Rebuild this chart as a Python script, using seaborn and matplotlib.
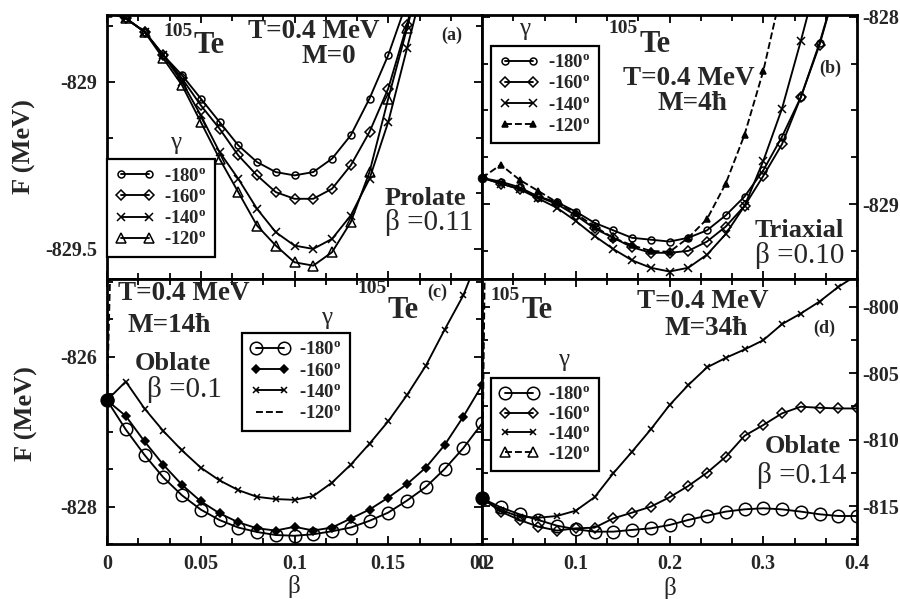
import matplotlib
matplotlib.use("Agg")
import matplotlib.pyplot as plt
import seaborn as sns
from matplotlib.ticker import MultipleLocator, FuncFormatter

sns.set_style("white")
plt.rcParams['font.family'] = ['Liberation Serif', 'DejaVu Serif']
plt.rcParams['font.weight'] = 'bold'
plt.rcParams['axes.unicode_minus'] = False
plt.rcParams['mathtext.fontset'] = 'custom'
plt.rcParams['mathtext.rm'] = 'Liberation Serif:bold'
plt.rcParams['mathtext.bf'] = 'Liberation Serif:bold'
plt.rcParams['mathtext.it'] = 'Liberation Serif:bold:italic'

# ---------------- data ----------------
gamma_labels = ["-180", "-160", "-140", "-120"]

# panel (a)  M=0
beta_a = [0.00, 0.01, 0.02, 0.03, 0.04, 0.05, 0.06, 0.07, 0.08, 0.09,
          0.10, 0.11, 0.12, 0.13, 0.14, 0.15, 0.16, 0.17]
a_m180 = [-828.79, -828.81, -828.85, -828.92, -828.98, -829.05, -829.12, -829.19, -829.24, -829.27,
          -829.28, -829.27, -829.23, -829.16, -829.05, -828.92, -828.76, -828.55]
a_m160 = [-828.79, -828.81, -828.85, -828.92, -828.99, -829.07, -829.14, -829.22, -829.28, -829.33,
          -829.35, -829.35, -829.32, -829.25, -829.15, -829.02, -828.83, -828.60]
a_m140 = [-828.79, -828.81, -828.85, -828.92, -829.00, -829.10, -829.21, -829.29, -829.38, -829.45,
          -829.49, -829.50, -829.47, -829.40, -829.29, -829.12, -828.90, -828.68]
a_m120 = [-828.79, -828.81, -828.85, -828.93, -829.01, -829.12, -829.23, -829.33, -829.43, -829.49,
          -829.54, -829.55, -829.51, -829.42, -829.27, -829.05, -828.84, -828.62]

# panel (b)  M=4hbar
beta_b = [0.00, 0.01, 0.02, 0.03, 0.04, 0.05, 0.06, 0.07, 0.08, 0.09,
          0.10, 0.11, 0.12, 0.13, 0.14, 0.15, 0.16, 0.17, 0.18, 0.19]
b_m180 = [-828.86, -828.88, -828.91, -828.96, -828.99, -829.04, -829.10, -829.14, -829.18, -829.19,
          -829.20, -829.18, -829.14, -829.06, -828.96, -828.82, -828.64, -828.43, -828.14, -827.80]
b_m160 = [-828.86, -828.89, -828.92, -828.96, -829.00, -829.06, -829.13, -829.18, -829.23, -829.26,
          -829.26, -829.25, -829.20, -829.12, -829.01, -828.85, -828.68, -828.43, -828.15, -827.80]
b_m140 = [-828.86, -828.89, -828.92, -828.97, -829.02, -829.09, -829.17, -829.24, -829.30, -829.34,
          -829.36, -829.34, -829.27, -829.16, -829.01, -828.77, -828.49, -828.13, -827.75]
b_m120 = [-828.86, -828.79, -828.87, -828.93, -828.99, -829.05, -829.12, -829.18, -829.22, -829.25,
          -829.255, -829.18, -829.08, -828.89, -828.63, -828.29, -827.85]

# panel (c)  M=14hbar
beta_c = [0.00, 0.01, 0.02, 0.03, 0.04, 0.05, 0.06, 0.07, 0.08, 0.09, 0.10,
          0.11, 0.12, 0.13, 0.14, 0.15, 0.16, 0.17, 0.18, 0.19, 0.20]
c_m180 = [-826.58, -826.97, -827.31, -827.61, -827.85, -828.04, -828.18, -828.28, -828.34, -828.38, -828.39,
          -828.37, -828.33, -828.28, -828.19, -828.08, -827.92, -827.74, -827.50, -827.22, -826.89]
c_m160 = [-826.58, -826.79, -827.13, -827.44, -827.71, -827.93, -828.09, -828.21, -828.29, -828.32, -828.27,
          -828.32, -828.28, -828.16, -828.04, -827.88, -827.70, -827.48, -827.18, -826.80, -826.38]
c_m140 = [-826.58, -826.33, -826.69, -826.99, -827.25, -827.48, -827.65, -827.78, -827.87, -827.90, -827.91,
          -827.86, -827.68, -827.44, -827.16, -826.86, -826.51, -826.12, -825.64, -825.18, -824.55]
c_m120 = [-826.58, -816.5]

# panel (d)  M=34hbar
beta_d = [0.00, 0.02, 0.04, 0.06, 0.08, 0.10, 0.12, 0.14, 0.16, 0.18, 0.20,
          0.22, 0.24, 0.26, 0.28, 0.30, 0.32, 0.34, 0.36, 0.38, 0.40]
d_m180 = [-814.42, -815.10, -815.62, -816.05, -816.48, -816.75, -816.93, -816.93, -816.80, -816.68, -816.43,
          -816.05, -815.73, -815.42, -815.25, -815.17, -815.25, -815.42, -815.62, -815.75, -815.75]
d_m160 = [-814.42, -815.42, -816.05, -816.55, -816.85, -816.68, -816.63, -815.93, -815.50, -815.05, -814.34,
          -813.49, -812.49, -811.29, -809.71, -808.90, -808.02, -807.52, -807.60, -807.65, -807.65]
d_m140 = [-814.42, -815.30, -815.80, -815.88, -815.75, -815.35, -814.34, -812.54, -810.91, -809.23, -807.40,
          -805.89, -804.56, -803.84, -803.21, -802.51, -801.30, -800.50, -799.60, -798.50, -797.60]
d_m120 = [-814.42, -696.0]

# ---------------- figure ----------------
W, H = 900, 599
fig = plt.figure(figsize=(9.0, 5.99), dpi=100)

def rect(x0, x1, y0, y1):
    return [x0 / W, 1 - y1 / H, (x1 - x0) / W, (y1 - y0) / H]

axA = fig.add_axes(rect(107, 482, 15, 279))
axB = fig.add_axes(rect(482, 857, 15, 279))
axC = fig.add_axes(rect(107, 482, 279, 544))
axD = fig.add_axes(rect(482, 857, 279, 544))

LW = 1.35

def draw(ax, x, y, marker, ms, fill='none', ls='-', label=None):
    sns.lineplot(x=x[:len(y)], y=y, ax=ax, color='k', linewidth=LW, linestyle=ls,
                 marker=marker if marker else None, markersize=ms,
                 markerfacecolor=fill, markeredgecolor='k', markeredgewidth=1.1,
                 estimator=None, errorbar=None, sort=False, legend=False, label=label)

def dot(ax, x, y, s):
    sns.scatterplot(x=[x], y=[y], ax=ax, color='k', s=s, edgecolor='k', zorder=5,
                    clip_on=False, legend=False)

def lab(g):
    return g + r"$^{\rm o}$"

# (a)
draw(axA, beta_a, a_m180, 'o', 5, label=lab(gamma_labels[0]))
draw(axA, beta_a, a_m160, 'D', 5, label=lab(gamma_labels[1]))
draw(axA, beta_a, a_m140, 'x', 6, label=lab(gamma_labels[2]))
draw(axA, beta_a, a_m120, '^', 7, label=lab(gamma_labels[3]))
# (b)
draw(axB, beta_b, b_m180, 'o', 5, label=lab(gamma_labels[0]))
draw(axB, beta_b, b_m160, 'D', 5, label=lab(gamma_labels[1]))
draw(axB, beta_b, b_m140, 'x', 6, label=lab(gamma_labels[2]))
draw(axB, beta_b, b_m120, '^', 5, fill='k', ls='--', label=lab(gamma_labels[3]))
dot(axB, beta_b[0], b_m120[0], 40)
# (c)
draw(axC, beta_c, c_m180, 'o', 9, label=lab(gamma_labels[0]))
draw(axC, beta_c, c_m160, 'D', 4, fill='k', label=lab(gamma_labels[1]))
draw(axC, beta_c, c_m140, 'x', 4, label=lab(gamma_labels[2]))
draw(axC, [0.0, 0.01], c_m120, None, 0, ls='--', label=lab(gamma_labels[3]))
dot(axC, 0.0, c_m120[0], 90)
# (d)
draw(axD, beta_d, d_m180, 'o', 9, label=lab(gamma_labels[0]))
draw(axD, beta_d, d_m160, 'D', 5, label=lab(gamma_labels[1]))
draw(axD, beta_d, d_m140, 'x', 4, label=lab(gamma_labels[2]))
draw(axD, [0.0, 0.02], d_m120, '^', 7, ls='--', label=lab(gamma_labels[3]))
dot(axD, 0.0, d_m120[0], 90)

axA.set_xlim(0, 0.2); axA.set_ylim(-829.59, -828.80)
axB.set_xlim(0, 0.2); axB.set_ylim(-829.40, -827.99)
axC.set_xlim(0, 0.2); axC.set_ylim(-828.50, -824.96)
axD.set_xlim(0, 0.4); axD.set_ylim(-817.86, -797.9)

fmt = FuncFormatter(lambda v, p: ("%g" % round(v, 6)))
for ax in (axA, axB, axC):
    ax.xaxis.set_major_locator(MultipleLocator(0.05))
    ax.xaxis.set_minor_locator(MultipleLocator(0.05 / 3))
axD.xaxis.set_major_locator(MultipleLocator(0.1))
axD.xaxis.set_minor_locator(MultipleLocator(0.1 / 3))
axA.yaxis.set_major_locator(MultipleLocator(0.5)); axA.yaxis.set_minor_locator(MultipleLocator(0.5 / 3))
axB.yaxis.set_major_locator(MultipleLocator(1.0)); axB.yaxis.set_minor_locator(MultipleLocator(0.25))
axC.yaxis.set_major_locator(MultipleLocator(2.0)); axC.yaxis.set_minor_locator(MultipleLocator(0.5))
axD.yaxis.set_major_locator(MultipleLocator(5.0)); axD.yaxis.set_minor_locator(MultipleLocator(2.5))

for ax in (axA, axB, axC, axD):
    ax.xaxis.set_major_formatter(fmt)
    ax.yaxis.set_major_formatter(fmt)
    ax.set_xlabel(''); ax.set_ylabel('')
    for s in ax.spines.values():
        s.set_linewidth(2.0); s.set_color('k')
    ax.tick_params(which='both', direction='in', top=True, right=True, left=True, bottom=True,
                   width=1.3, color='k', labelsize=14.5, pad=7)
    ax.tick_params(which='major', length=6)
    ax.tick_params(which='minor', length=4)
    ax.set_facecolor('white')

axA.tick_params(labelbottom=False)
axB.tick_params(labelbottom=False, labelleft=False, labelright=True, pad=4)
axC.tick_params(labelleft=True)
axD.tick_params(labelleft=False, labelright=True)
axD.tick_params(axis='y', pad=4)
for ax in (axA, axB, axC, axD):
    for t in ax.get_xticklabels() + ax.get_yticklabels():
        t.set_fontweight('bold')

# legends
def legend(ax, fx, fy, lspace):
    leg = ax.legend(loc='upper left', bbox_to_anchor=(fx, fy), borderaxespad=0, numpoints=2,
                    handlelength=2.1, handletextpad=0.5, borderpad=0.45, labelspacing=lspace,
                    frameon=True, fancybox=False, framealpha=1, edgecolor='k',
                    prop=dict(family='Liberation Serif', weight='bold', size=13.5))
    leg.get_frame().set_linewidth(1.6)
    return leg

legend(axA, 0.0, 0.4545, 0.22)
legend(axB, 0.023, 0.884, 0.22)
legend(axC, 0.359, 0.797, 0.22)
legend(axD, 0.023, 0.628, 0.15)

# texts
def pt(x, y, s, size, weight='bold', ha='left', va='baseline', **kw):
    fig.text(x / W, 1 - y / H, s, fontsize=size, fontweight=weight, ha=ha, va=va,
             family='Liberation Serif', **kw)

def te(x, y_sup, y_te):
    pt(x, y_sup, "105", 14)
    pt(x + 31, y_te, "Te", 22)

# panel a
te(163, 36, 53)
pt(314, 38, "T=0.4 MeV", 19.5, ha='center')
pt(329, 63, "M=0", 19.5, ha='center')
pt(452, 35, "(a)", 13, ha='center', va='center')
pt(385, 205, "Prolate", 19)
pt(385, 230, "β =0.11", 21, weight='normal')
pt(176, 143, "γ", 18, weight='normal', ha='center', va='center')
# panel b
te(608, 33, 52)
pt(689, 85, "T=0.4 MeV", 19.5, ha='center')
pt(692, 110, "M=4ħ", 19.5, ha='center')
pt(830, 68, "(b)", 13, ha='center', va='center')
pt(755, 237, "Triaxial", 19)
pt(755, 263, "β =0.10", 21, weight='normal')
pt(525, 29, "γ", 18, weight='normal', ha='center', va='center')
# panel c
pt(118, 300, "T=0.4 MeV", 19.5)
pt(128, 332, "M=14ħ", 19.5)
pt(135, 370, "Oblate", 19)
pt(147, 397, "β =0.1", 21, weight='normal')
te(357, 293, 318)
pt(437, 292, "(c)", 13, ha='center', va='center')
pt(327, 318, "γ", 18, weight='normal', ha='center', va='center')
# panel d
te(490, 300, 318)
pt(703, 308, "T=0.4 MeV", 19.5, ha='center')
pt(706, 335, "M=34ħ", 19.5, ha='center')
pt(824, 328, "(d)", 13, ha='center', va='center')
pt(765, 453, "Oblate", 19)
pt(757, 483, "β =0.14", 21, weight='normal')
pt(564, 360, "γ", 18, weight='normal', ha='center', va='center')

# axis labels
pt(24, 147, "F (MeV)", 19, ha='center', va='center', rotation=90)
pt(26, 414, "F (MeV)", 19, ha='center', va='center', rotation=90)
pt(294, 587, "β", 18, weight='normal', ha='center', va='center')
pt(670, 588, "β", 18, weight='normal', ha='center', va='center')

fig.savefig("out.png", dpi=100, facecolor='white')
